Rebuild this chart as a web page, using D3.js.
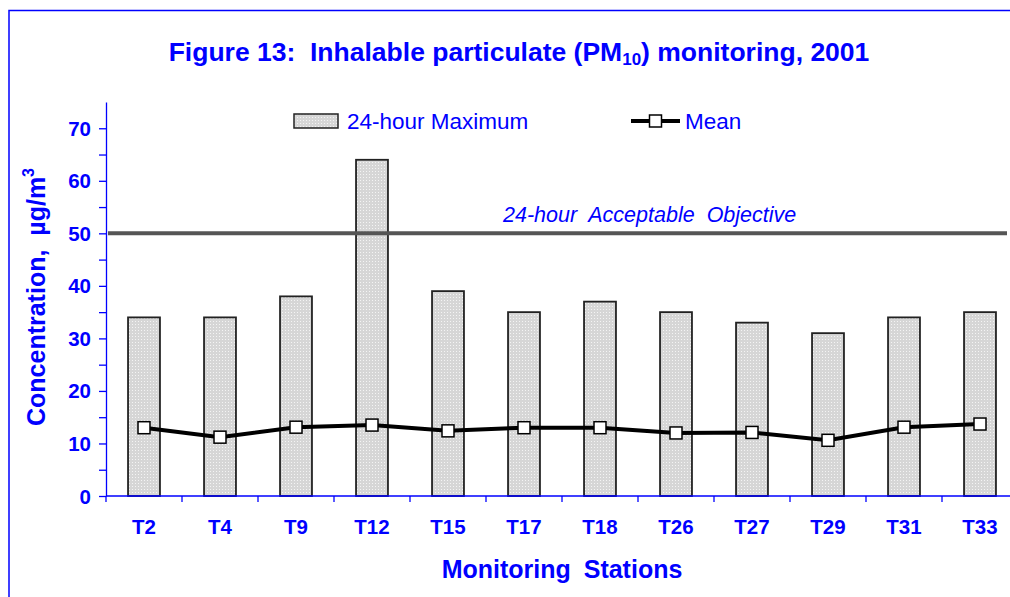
<!DOCTYPE html>
<meta charset="utf-8">
<style>
  body { margin: 0; background: #fff; }
  svg { display: block; font-family: "Liberation Sans", Arial, sans-serif; }
  .blue { fill: #0000ff; }
</style>
<body></body>
<script src="https://d3js.org/d3.v7.min.js"></script>
<script>
  // data
  var stations = ["T2", "T4", "T9", "T12", "T15", "T17", "T18", "T26", "T27", "T29", "T31", "T33"];
  var maxValues = [34, 34, 38, 64, 39, 35, 37, 35, 33, 31, 34, 35];
  var meanValues = [13.0, 11.2, 13.1, 13.5, 12.4, 13.0, 13.0, 12.0, 12.1, 10.6, 13.1, 13.7];
  var yTicks = [0, 10, 20, 30, 40, 50, 60, 70];
  var objective = 50;

  var W = 1010, H = 597;
  var blue = "#0000ff";

  var svg = d3.select("body").append("svg")
    .attr("width", W)
    .attr("height", H);

  // stipple fill for the bars
  var pat = svg.append("defs").append("pattern")
    .attr("id", "dots")
    .attr("width", 3).attr("height", 3)
    .attr("patternUnits", "userSpaceOnUse");
  pat.append("rect").attr("width", 3).attr("height", 3).attr("fill", "#d6d6d6");
  pat.append("rect").attr("width", 1).attr("height", 1).attr("fill", "#f4f4f4");

  // outer frame (cropped on right/bottom)
  svg.append("path")
    .attr("d", "M9," + H + "V10.5H" + W)
    .attr("fill", "none")
    .attr("stroke", blue)
    .attr("stroke-width", 1.5);

  var x = d3.scaleBand().domain(stations).range([106, 1018]);
  var y = d3.scaleLinear().domain([0, 75]).range([496, 102]);

  // title
  var title = svg.append("text")
    .attr("class", "blue")
    .attr("x", 519).attr("y", 61)
    .attr("text-anchor", "middle")
    .style("font-weight", "bold")
    .style("font-size", "26.5px");
  title.append("tspan").text("Figure 13:\u00a0\u00a0Inhalable particulate (PM");
  title.append("tspan").attr("dy", 4).style("font-size", "17px").text("10");
  title.append("tspan").attr("dy", -4).text(") monitoring, 2001");

  // bars
  svg.append("g").selectAll("rect")
    .data(stations)
    .enter().append("rect")
    .attr("x", function(d) { return x(d) + x.bandwidth() * 0.29; })
    .attr("width", x.bandwidth() * 0.42)
    .attr("y", function(d, i) { return y(maxValues[i]); })
    .attr("height", function(d, i) { return y(0) - y(maxValues[i]); })
    .attr("fill", "url(#dots)")
    .attr("stroke", "#222")
    .attr("stroke-width", 1.8);

  // objective line
  svg.append("line")
    .attr("x1", 108).attr("x2", 1007)
    .attr("y1", y(objective)).attr("y2", y(objective))
    .attr("stroke", "#555")
    .attr("stroke-width", 4);
  svg.append("text")
    .attr("class", "blue")
    .attr("x", 503).attr("y", 222)
    .style("font-style", "italic")
    .style("font-size", "21.5px")
    .style("word-spacing", "6px")
    .text("24-hour Acceptable Objective");

  // mean line
  var line = d3.line()
    .x(function(d, i) { return x(stations[i]) + x.bandwidth() / 2; })
    .y(function(d) { return y(d); });
  svg.append("path")
    .datum(meanValues)
    .attr("d", line)
    .attr("fill", "none")
    .attr("stroke", "#000")
    .attr("stroke-width", 4);
  svg.append("g").selectAll("rect")
    .data(meanValues)
    .enter().append("rect")
    .attr("x", function(d, i) { return x(stations[i]) + x.bandwidth() / 2 - 6; })
    .attr("y", function(d) { return y(d) - 6; })
    .attr("width", 12).attr("height", 12)
    .attr("fill", "#fff")
    .attr("stroke", "#000")
    .attr("stroke-width", 1.5);

  // y axis
  var yAxis = svg.append("g")
    .attr("transform", "translate(106,0)")
    .call(d3.axisLeft(y).tickValues(d3.range(0, 75, 5)).tickSize(7).tickSizeOuter(0).tickFormat(""));
  yAxis.select(".domain").attr("stroke", blue).attr("stroke-width", 1.3);
  yAxis.selectAll(".tick line").attr("stroke", blue).attr("stroke-width", 1.3);
  svg.append("g").selectAll("text")
    .data(yTicks)
    .enter().append("text")
    .attr("class", "blue")
    .attr("x", 91)
    .attr("y", function(d) { return y(d) + 7.5; })
    .attr("text-anchor", "end")
    .style("font-weight", "bold")
    .style("font-size", "20.5px")
    .text(function(d) { return d; });

  // x axis
  var xAxis = svg.append("g")
    .attr("transform", "translate(0,496)");
  xAxis.append("line")
    .attr("x1", 106).attr("x2", W)
    .attr("stroke", blue).attr("stroke-width", 1.5);
  xAxis.selectAll(".tk")
    .data(stations)
    .enter().append("line")
    .attr("x1", function(d) { return x(d); })
    .attr("x2", function(d) { return x(d); })
    .attr("y1", 0).attr("y2", 6)
    .attr("stroke", blue).attr("stroke-width", 1.3);
  xAxis.selectAll("text")
    .data(stations)
    .enter().append("text")
    .attr("class", "blue")
    .attr("x", function(d) { return x(d) + x.bandwidth() / 2; })
    .attr("y", 38)
    .attr("text-anchor", "middle")
    .style("font-weight", "bold")
    .style("font-size", "20.5px")
    .text(function(d) { return d; });

  // axis titles
  svg.append("text")
    .attr("class", "blue")
    .attr("x", 562).attr("y", 578)
    .attr("text-anchor", "middle")
    .style("font-weight", "bold")
    .style("font-size", "25px")
    .style("word-spacing", "6px")
    .text("Monitoring Stations");

  var yt = svg.append("text")
    .attr("class", "blue")
    .attr("transform", "translate(45,297) rotate(-90)")
    .attr("text-anchor", "middle")
    .style("font-weight", "bold")
    .style("font-size", "25px");
  yt.append("tspan").text("Concentration,\u00a0\u00a0\u00b5g/m");
  yt.append("tspan").attr("dy", -11).style("font-size", "16px").text("3");

  // legend
  var leg = svg.append("g");
  leg.append("rect")
    .attr("x", 294).attr("y", 114)
    .attr("width", 44).attr("height", 14)
    .attr("fill", "url(#dots)")
    .attr("stroke", "#222").attr("stroke-width", 1.5);
  leg.append("text")
    .attr("class", "blue")
    .attr("x", 347).attr("y", 129)
    .style("font-size", "22.5px")
    .text("24-hour Maximum");
  leg.append("line")
    .attr("x1", 631).attr("x2", 680)
    .attr("y1", 121).attr("y2", 121)
    .attr("stroke", "#000").attr("stroke-width", 4);
  leg.append("rect")
    .attr("x", 649.5).attr("y", 115)
    .attr("width", 12).attr("height", 12)
    .attr("fill", "#fff")
    .attr("stroke", "#000").attr("stroke-width", 1.5);
  leg.append("text")
    .attr("class", "blue")
    .attr("x", 685).attr("y", 129)
    .style("font-size", "22.5px")
    .text("Mean");
</script>
